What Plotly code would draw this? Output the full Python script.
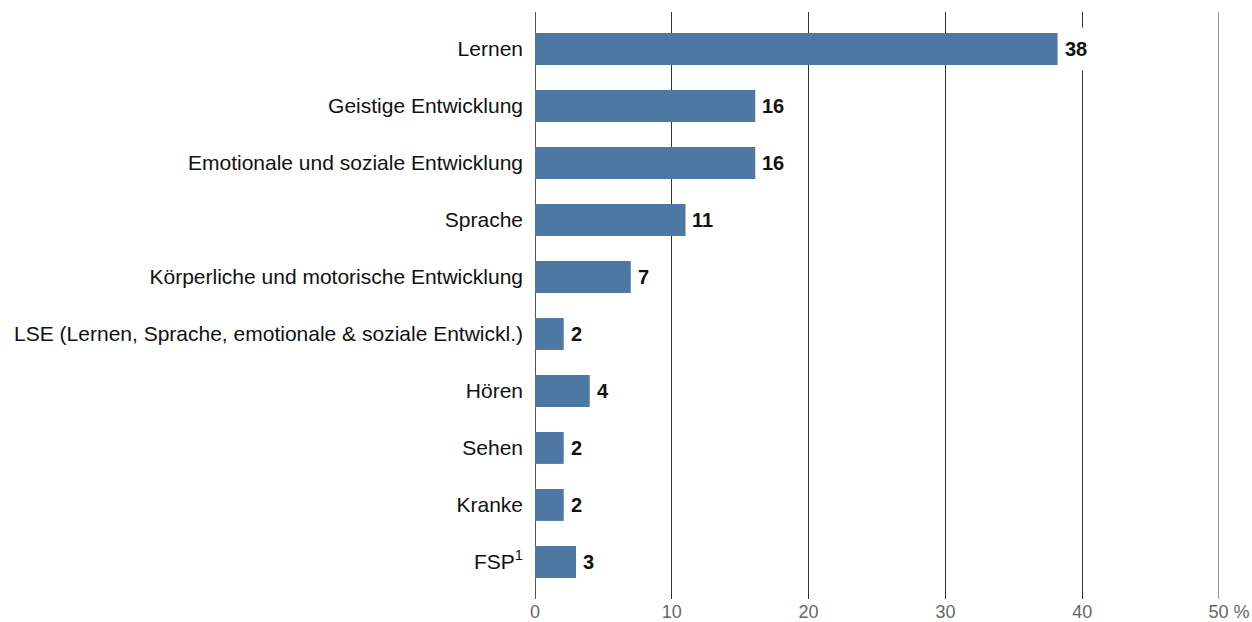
import plotly.graph_objects as go

categories = [
    "Lernen",
    "Geistige Entwicklung",
    "Emotionale und soziale Entwicklung",
    "Sprache",
    "Körperliche und motorische Entwicklung",
    "LSE (Lernen, Sprache, emotionale & soziale Entwickl.)",
    "Hören",
    "Sehen",
    "Kranke",
    "FSP<sup>1</sup>",
]
values = [38.2, 16.1, 16.1, 11.0, 7.0, 2.1, 4.0, 2.1, 2.1, 3.0]
value_labels = ["38", "16", "16", "11", "7", "2", "4", "2", "2", "3"]
tick_values = [0, 10, 20, 30, 40, 50]
tick_labels = ["0", "10", "20", "30", "40", "\u00a0\u00a0\u00a0\u00a050 %"]

BAR = "#4e78a4"
GRID = "#333333"

fig = go.Figure()
fig.add_trace(go.Bar(
    x=values,
    y=categories,
    orientation="h",
    marker=dict(color=BAR, line=dict(width=0)),
    width=0.56,
    hoverinfo="skip",
))

for cat, v, lab in zip(categories, values, value_labels):
    fig.add_annotation(
        x=v, y=cat, xref="x", yref="y",
        text="<b>" + lab + "</b>",
        showarrow=False,
        xanchor="left", yanchor="middle",
        xshift=6,
        bgcolor="white",
        borderpad=0,
        height=42,
        font=dict(family="Liberation Sans, Arial, sans-serif", size=20, color="#111111"),
    )

# gridline at the right end of the axis (plotly omits it at the range edge)
fig.add_shape(
    type="line", xref="x", yref="paper",
    x0=tick_values[-1], x1=tick_values[-1], y0=0, y1=1,
    line=dict(color=GRID, width=1), layer="below",
)

fig.update_layout(
    width=1252, height=622,
    margin=dict(l=535, r=33, t=12, b=23, autoexpand=False),
    paper_bgcolor="white",
    plot_bgcolor="white",
    showlegend=False,
    font=dict(family="Liberation Sans, Arial, sans-serif"),
    xaxis=dict(
        range=[0, 50],
        tickvals=tick_values,
        ticktext=tick_labels,
        showgrid=True,
        gridcolor=GRID,
        gridwidth=1,
        zeroline=True,
        zerolinecolor="#555555",
        zerolinewidth=1,
        showline=False,
        ticks="",
        tickfont=dict(size=18, color="#666666"),
        automargin=False,
        fixedrange=True,
    ),
    yaxis=dict(
        type="category",
        categoryorder="array",
        categoryarray=categories,
        range=[9.65, -0.65],
        showgrid=False,
        zeroline=False,
        showline=False,
        ticks="",
        ticklabelstandoff=11,
        tickfont=dict(size=21, color="#111111"),
        automargin=False,
        fixedrange=True,
    ),
)

fig.write_html(
    "out.html",
    config={"displayModeBar": False},
    post_script="document.body.style.margin='0';document.body.style.padding='0';",
)
